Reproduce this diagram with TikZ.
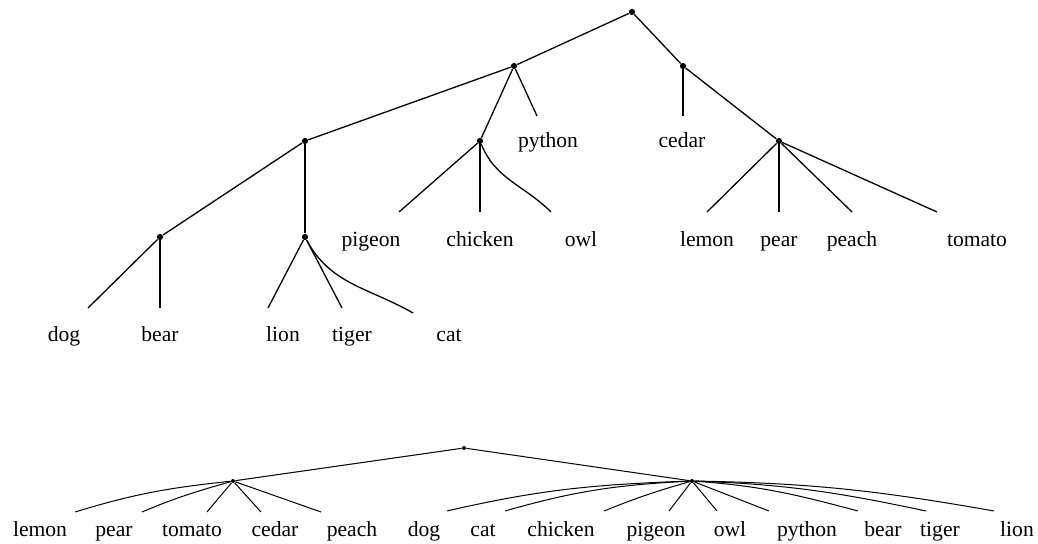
\documentclass[tikz,border=0pt]{standalone}
\usepackage{fontspec}
\setmainfont{Liberation Serif}
\usetikzlibrary{positioning}

\tikzset{
  leaf/.style={anchor=base,inner sep=0pt,font=\fontsize{10.8}{13}\selectfont},
  bigdot/.style={circle,fill,inner sep=0pt,minimum size=3.1pt},
  smalldot/.style={circle,fill,inner sep=0pt,minimum size=2pt},
  topedge/.style={line width=0.65pt},
  lowedge/.style={line width=0.5pt},
}

\begin{document}
\begin{tikzpicture}[x=0.5pt,y=-0.5pt]
		\useasboundingbox (0,0) rectangle (1038,544);
		% upper tree: inner nodes
		\node[bigdot] (root) at (632,12) {};
		\node[bigdot] (n1) at (514,66) {};
		\node[bigdot] (n2) at (683,66) {};
		\node[bigdot] (n3) at (305,141) {};
		\node[bigdot] (n4) at (480,141) {};
		\node[bigdot] (n5) at (779,141) {};
		\node[bigdot] (n6) at (160,237) {};
		\node[bigdot] (n7) at (305,237) {};
		% upper tree: leaf ends
		\coordinate (e-python) at (537,116);
		\coordinate (e-cedar) at (683,116);
		\coordinate (e-pigeon) at (399,212);
		\coordinate (e-chicken) at (480,212);
		\coordinate (e-owl) at (551,212);
		\coordinate (e-lemon) at (707,212);
		\coordinate (e-pear) at (779,212);
		\coordinate (e-peach) at (852,212);
		\coordinate (e-tomato) at (937,212);
		\coordinate (e-dog) at (88,308);
		\coordinate (e-bear) at (160,308);
		\coordinate (e-lion) at (268,308);
		\coordinate (e-tiger) at (342,308);
		\coordinate (e-cat) at (413,313);
		% upper tree: labels
		\node[leaf] (python) at (548,148) {python};
		\node[leaf] (cedar) at (682,148) {cedar};
		\node[leaf] (pigeon) at (371,247) {pigeon};
		\node[leaf] (chicken) at (480,247) {chicken};
		\node[leaf] (owl) at (581,247) {owl};
		\node[leaf] (lemon) at (707,247) {lemon};
		\node[leaf] (pear) at (779,247) {pear};
		\node[leaf] (peach) at (852,247) {peach};
		\node[leaf] (tomato) at (977,247) {tomato};
		\node[leaf] (dog) at (64,342) {dog};
		\node[leaf] (bear) at (160,342) {bear};
		\node[leaf] (lion) at (283,342) {lion};
		\node[leaf] (tiger) at (352,342) {tiger};
		\node[leaf] (cat) at (449,342) {cat};
		% upper tree: edges
		\draw[topedge] (root) -- (n1);
		\draw[topedge] (root) -- (n2);
		\draw[topedge] (n1) -- (n3);
		\draw[topedge] (n1) -- (n4);
		\draw[topedge] (n1) -- (e-python);
		\draw[topedge] (n2) -- (e-cedar);
		\draw[topedge] (n2) -- (n5);
		\draw[topedge] (n3) -- (n6);
		\draw[topedge] (n3) -- (n7);
		\draw[topedge] (n4) -- (e-pigeon);
		\draw[topedge] (n4) -- (e-chicken);
		\draw[topedge] (n4) to[out=-68,in=135] (e-owl);
		\draw[topedge] (n5) -- (e-lemon);
		\draw[topedge] (n5) -- (e-pear);
		\draw[topedge] (n5) -- (e-peach);
		\draw[topedge] (n5) -- (e-tomato);
		\draw[topedge] (n6) -- (e-dog);
		\draw[topedge] (n6) -- (e-bear);
		\draw[topedge] (n7) -- (e-lion);
		\draw[topedge] (n7) -- (e-tiger);
		\draw[topedge] (n7) to[out=-62,in=150] (e-cat);

		% lower tree: inner nodes
		\node[smalldot] (top) at (464,448) {};
		\node[smalldot] (left) at (233,481) {};
		\node[smalldot] (right) at (692,481) {};
		% lower tree: leaf ends
		\coordinate (f-lemon) at (75,512);
		\coordinate (f-pear) at (142,512);
		\coordinate (f-tomato) at (207,512);
		\coordinate (f-cedar) at (261,512);
		\coordinate (f-peach) at (321,512);
		\coordinate (f-dog) at (447,511);
		\coordinate (f-cat) at (505,511);
		\coordinate (f-chicken) at (604,511);
		\coordinate (f-pigeon) at (669,511);
		\coordinate (f-owl) at (717,511);
		\coordinate (f-python) at (769,511);
		\coordinate (f-bear) at (858,511);
		\coordinate (f-tiger) at (926,511);
		\coordinate (f-lion) at (994,511);
		% lower tree: labels
		\node[leaf] (lemon2) at (40,537) {lemon};
		\node[leaf] (pear2) at (114,537) {pear};
		\node[leaf] (tomato2) at (192,537) {tomato};
		\node[leaf] (cedar2) at (275,537) {cedar};
		\node[leaf] (peach2) at (352,537) {peach};
		\node[leaf] (dog2) at (424,537) {dog};
		\node[leaf] (cat2) at (483,537) {cat};
		\node[leaf] (chicken2) at (561,537) {chicken};
		\node[leaf] (pigeon2) at (656,537) {pigeon};
		\node[leaf] (owl2) at (730,537) {owl};
		\node[leaf] (python2) at (807,537) {python};
		\node[leaf] (bear2) at (883,537) {bear};
		\node[leaf] (tiger2) at (940,537) {tiger};
		\node[leaf] (lion2) at (1017,537) {lion};
		% lower tree: edges
		\draw[lowedge] (top) -- (left);
		\draw[lowedge] (top) -- (right);
		\draw[lowedge] (left) to[out=186,in=17] (f-lemon);
		\draw[lowedge] (left) to[out=196,in=23] (f-pear);
		\draw[lowedge] (left) -- (f-tomato);
		\draw[lowedge] (left) -- (f-cedar);
		\draw[lowedge] (left) -- (f-peach);
		\draw[lowedge] (right) to[out=182,in=13] (f-dog);
		\draw[lowedge] (right) to[out=183,in=16] (f-cat);
		\draw[lowedge] (right) to[out=196,in=22] (f-chicken);
		\draw[lowedge] (right) -- (f-pigeon);
		\draw[lowedge] (right) -- (f-owl);
		\draw[lowedge] (right) -- (f-python);
		\draw[lowedge] (right) to[out=-4,in=165] (f-bear);
		\draw[lowedge] (right) to[out=-2,in=168] (f-tiger);
		\draw[lowedge] (right) to[out=-1,in=170] (f-lion);
	\end{tikzpicture}
\end{document}
